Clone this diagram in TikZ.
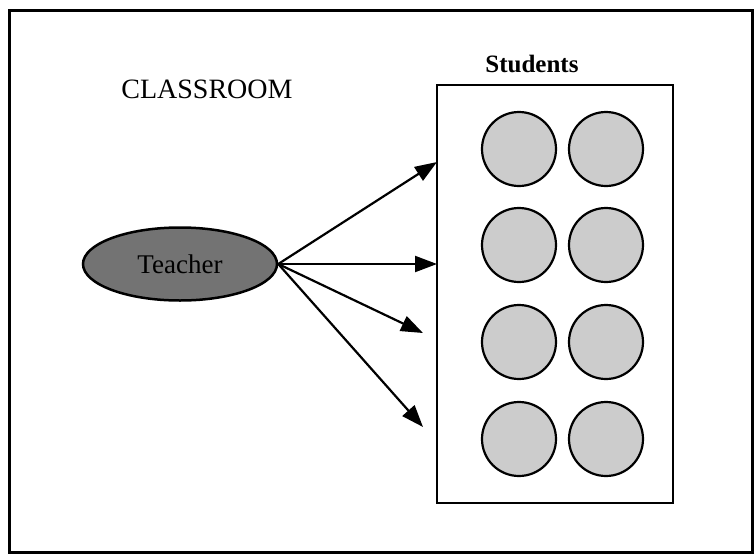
\documentclass[tikz,border=0pt]{standalone}
\usepackage{fontspec}
\setmainfont{Liberation Serif}
\usetikzlibrary{shapes.geometric,arrows.meta}

\begin{document}
\begin{tikzpicture}[x=1pt,y=-1pt,
    pupil/.style={circle,draw,line width=2.2pt,fill=black!20,minimum size=74pt,inner sep=0pt},
    ray/.style={-{Triangle[length=22pt,width=16pt]},line width=2.2pt}]
    \useasboundingbox (0,0) rectangle (755,555);
    \draw[line width=3pt] (9,10) rectangle (752,552);

    \node[font=\fontsize{28}{30}\selectfont] (room) at (207,89) {CLASSROOM};
    \node[font=\fontsize{25}{28}\selectfont\bfseries] (stulabel) at (532,64) {Students};

    \node[draw,line width=2.5pt,minimum width=236pt,minimum height=418pt,inner sep=0pt] (group) at (555,294) {};

    \foreach \r [count=\i] in {149,245,342,439} {
        \node[pupil] (s\i a) at (519,\r) {};
        \node[pupil] (s\i b) at (606,\r) {};
    }

    \node[ellipse,draw,line width=2.5pt,fill=black!55,minimum width=194pt,minimum height=73pt,
        inner sep=0pt,font=\fontsize{27}{30}\selectfont] (teacher) at (180,264) {Teacher};

    \coordinate (t1) at (437,162);
    \coordinate (t2) at (437,264);
    \coordinate (t3) at (423,333);
    \coordinate (t4) at (423,427);
    \foreach \t in {t1,t2,t3,t4} {
        \draw[ray] (teacher.east) -- (\t);
    }
\end{tikzpicture}
\end{document}
